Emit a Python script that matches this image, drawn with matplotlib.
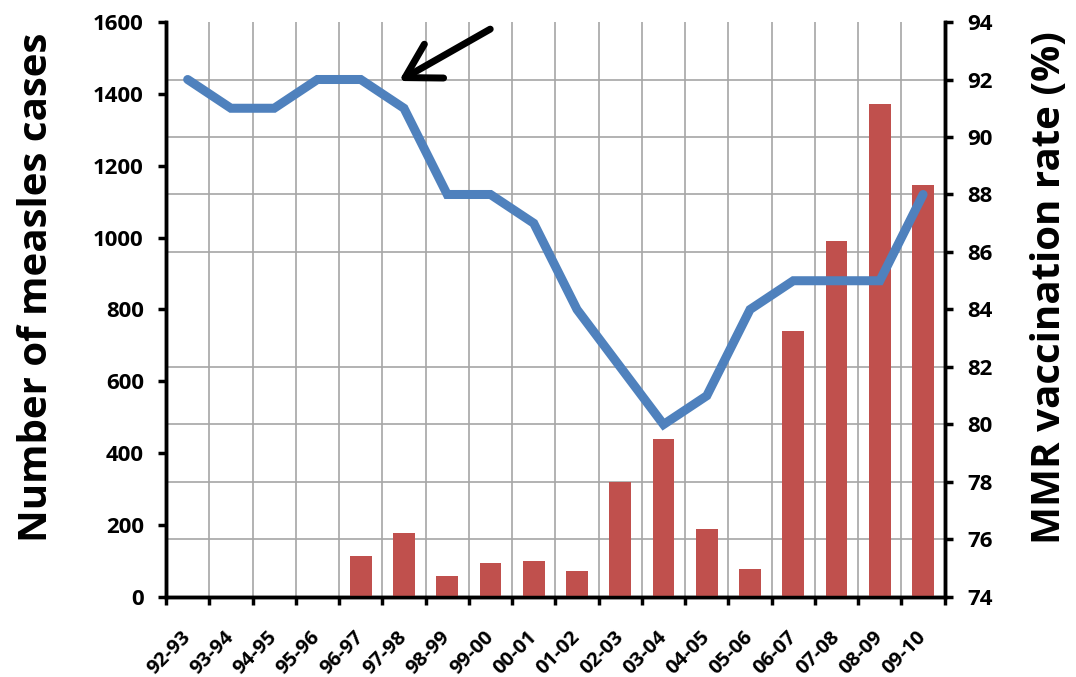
import numpy as np
import matplotlib.pyplot as plt
from matplotlib.transforms import ScaledTranslation

plt.rcParams['font.family'] = ['Open Sans', 'DejaVu Sans']
plt.rcParams['font.weight'] = 'bold'

# data
seasons = ['92-93', '93-94', '94-95', '95-96', '96-97', '97-98', '98-99', '99-00',
           '00-01', '01-02', '02-03', '03-04', '04-05', '05-06', '06-07', '07-08',
           '08-09', '09-10']
cases = [0, 0, 0, 0, 114, 178, 58, 95, 100, 72, 320, 440, 189, 78, 740, 990, 1372, 1146]
mmr_rate = [92, 91, 91, 92, 92, 91, 88, 88, 87, 84, 82, 80, 81, 84, 85, 85, 85, 88]

x = np.arange(len(seasons))

fig = plt.figure(figsize=(10.76, 6.77), dpi=100)
ax = fig.add_axes([0.1543, 0.1182, 0.878 - 0.1543, 0.9675 - 0.1182])
ax.bar(x, cases, width=0.5, color='#C0504D', zorder=3)
ax.set_xlim(-0.5, len(seasons) - 0.5)
ax.set_ylim(0, 1600)
ax.set_yticks(np.arange(0, 1601, 200))

# grid: vertical at category edges, horizontal at the right axis ticks
ax.set_xticks(x)
ax.set_xticklabels(seasons, rotation=45, ha='right', va='center', rotation_mode='anchor',
                   fontsize=14.5, fontweight='bold')
# nudge the rotated labels a bit to the left
shift = ScaledTranslation(-0.06, 0, fig.dpi_scale_trans)
for lab in ax.get_xticklabels():
    lab.set_transform(lab.get_transform() + shift)
ax.set_xticks(np.arange(-0.5, len(seasons)), minor=True)
ax.set_yticks(np.arange(0, 1601, 160), minor=True)
ax.tick_params(axis='x', which='major', length=0, pad=27)
ax.tick_params(axis='x', which='minor', length=6, width=2.5, direction='out')
ax.tick_params(axis='y', which='minor', length=0)
ax.tick_params(axis='y', which='major', length=6, width=2.5, labelsize=16, pad=10)
ax.grid(which='minor', color='#A6A6A6', linewidth=1.2, zorder=0)
ax.set_axisbelow(True)
for lab in ax.get_yticklabels():
    lab.set_fontweight('bold')

ax.set_ylabel('Number of measles cases', fontsize=29, fontweight='bold')
ax.yaxis.set_label_coords(-0.141, 0.539)

ax2 = ax.twinx()
ax2.plot(x, mmr_rate, color='#4F81BD', linewidth=6.5, solid_joinstyle='miter',
         solid_capstyle='round', zorder=4)
ax2.set_ylim(74, 94)
ax2.set_yticks(np.arange(74, 95, 2))
ax2.tick_params(axis='y', length=6, width=2.5, labelsize=16, pad=10)
for lab in ax2.get_yticklabels():
    lab.set_fontweight('bold')
ax2.set_ylabel('MMR vaccination rate (%)', fontsize=29, fontweight='bold')
ax2.yaxis.set_label_coords(1.109, 0.539)

for a in (ax, ax2):
    a.spines['top'].set_visible(False)
    for s in ('left', 'right', 'bottom'):
        a.spines[s].set_linewidth(2.5)

ax2.annotate('', xy=(4.83, 91.9), xytext=(7.05, 93.8),
             arrowprops=dict(arrowstyle='->,head_length=0.6,head_width=0.35',
                             lw=5, color='black', mutation_scale=40))

fig.savefig('out.png', dpi=100)
